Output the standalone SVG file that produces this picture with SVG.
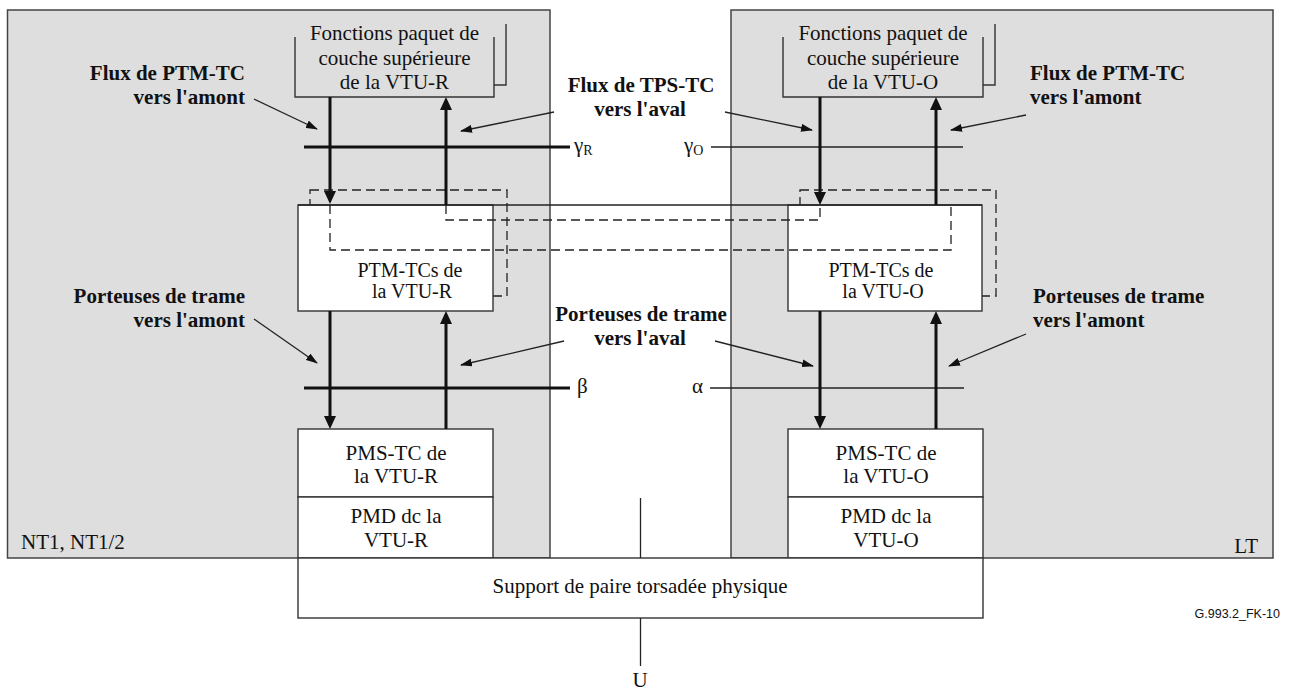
<svg xmlns="http://www.w3.org/2000/svg" width="1291" height="691" viewBox="0 0 1291 691">
<style>
.panel{fill:#dedede;stroke:#444;stroke-width:1.5}
.box{fill:#fff;stroke:#333;stroke-width:1.4}
.open{fill:none;stroke:#333;stroke-width:1.4}
.dash{fill:none;stroke:#222;stroke-width:1.3;stroke-dasharray:9 5}
.thick{stroke:#111;stroke-width:3;fill:none}
.thin{stroke:#222;stroke-width:1.3;fill:none}
.ptr{stroke:#222;stroke-width:1.3;fill:none}
text{font-family:"Liberation Serif","Times New Roman",serif;font-size:21px;fill:#111}
.b{font-weight:bold}
.m{text-anchor:middle}
.e{text-anchor:end}
.s20{font-size:20px}
.sans{font-family:"Liberation Sans",Arial,sans-serif;font-size:12.5px}
</style>
<defs>
<marker id="ah" viewBox="0 0 13 12" markerWidth="13" markerHeight="12" refX="0" refY="6" orient="auto" markerUnits="userSpaceOnUse"><path d="M0,0 L13,6 L0,12 z" fill="#111"/></marker>
<marker id="ap" viewBox="0 0 12 8" markerWidth="12" markerHeight="8" refX="11" refY="4" orient="auto" markerUnits="userSpaceOnUse"><path d="M0,0 L12,4 L0,8 z" fill="#111"/></marker>
</defs>

<g id="panel-nt1">
<rect class="panel" x="7.5" y="10" width="542.5" height="548"/>
<text x="21" y="549">NT1, NT1/2</text>
</g>
<g id="panel-lt">
<rect class="panel" x="731" y="10" width="542" height="548"/>
<text x="1258" y="553" class="e">LT</text>
</g>

<g id="dashed-back">
<rect class="dash" x="310" y="190" width="197" height="106"/>
<rect class="dash" x="800" y="190" width="196" height="106"/>
</g>

<g id="top-r">
<path class="open" d="M506,24 V85 H494"/>
<path class="open" d="M295,37 V97 H494 V37"/>
<text class="m" x="394.5" y="40">Fonctions paquet de</text>
<text class="m" x="394.5" y="65">couche supérieure</text>
<text class="m" x="394.5" y="89">de la VTU-R</text>
</g>
<g id="top-o">
<path class="open" d="M995,24 V85 H983"/>
<path class="open" d="M783,37 V97 H983 V37"/>
<text class="m" x="883" y="40">Fonctions paquet de</text>
<text class="m" x="883" y="65">couche supérieure</text>
<text class="m" x="883" y="89">de la VTU-O</text>
</g>

<g id="ptm-r">
<rect class="box" x="298" y="205" width="195" height="106"/>
<text class="m s20" x="410" y="277">PTM-TCs de</text>
<text class="m s20" x="412" y="298">la VTU-R</text>
</g>
<g id="ptm-o">
<rect class="box" x="788" y="205" width="194" height="106"/>
<text class="m s20" x="881" y="277">PTM-TCs de</text>
<text class="m s20" x="883" y="298">la VTU-O</text>
</g>

<g id="pms-r">
<rect class="box" x="298" y="429" width="195" height="68"/>
<text class="m" x="396" y="460">PMS-TC de</text>
<text class="m" x="396" y="483">la VTU-R</text>
</g>
<g id="pmd-r">
<rect class="box" x="298" y="497" width="195" height="61"/>
<text class="m" x="396" y="523">PMD dc la</text>
<text class="m" x="396" y="547">VTU-R</text>
</g>
<g id="pms-o">
<rect class="box" x="788" y="429" width="195" height="68"/>
<text class="m" x="886" y="460">PMS-TC de</text>
<text class="m" x="886" y="483">la VTU-O</text>
</g>
<g id="pmd-o">
<rect class="box" x="788" y="497" width="195" height="61"/>
<text class="m" x="886" y="523">PMD dc la</text>
<text class="m" x="886" y="547">VTU-O</text>
</g>
<g id="support">
<rect class="box" x="298" y="558" width="685" height="60"/>
<text class="m" x="640" y="593">Support de paire torsadée physique</text>
</g>

<g id="connectors">
<line class="thin" x1="298" y1="205" x2="982" y2="205" stroke="#333"/>
<path class="dash" d="M330,205 V250 H951 V205"/>
<path class="dash" d="M446,205 V220 H820 V205"/>
<line class="thin" x1="640.5" y1="498" x2="640.5" y2="558"/>
<line class="thin" x1="640.5" y1="618" x2="640.5" y2="666"/>

<line class="thick" x1="304" y1="147" x2="570" y2="147"/>
<line class="thin" x1="711" y1="147" x2="963" y2="147"/>
<line class="thick" x1="304" y1="388" x2="570" y2="388"/>
<line class="thin" x1="710" y1="388" x2="964" y2="388"/>

<line class="thick" x1="330" y1="97" x2="330" y2="191" marker-end="url(#ah)"/>
<line class="thick" x1="446" y1="205" x2="446" y2="110" marker-end="url(#ah)"/>
<line class="thick" x1="820" y1="97" x2="820" y2="192" marker-end="url(#ah)"/>
<line class="thick" x1="936" y1="205" x2="936" y2="110" marker-end="url(#ah)"/>
<line class="thick" x1="330" y1="311" x2="330" y2="416" marker-end="url(#ah)"/>
<line class="thick" x1="446" y1="429" x2="446" y2="324" marker-end="url(#ah)"/>
<line class="thick" x1="820" y1="311" x2="820" y2="416" marker-end="url(#ah)"/>
<line class="thick" x1="936" y1="429" x2="936" y2="324" marker-end="url(#ah)"/>

<line class="ptr" x1="254" y1="99" x2="317" y2="129" marker-end="url(#ap)"/>
<line class="ptr" x1="554" y1="112" x2="461" y2="131" marker-end="url(#ap)"/>
<line class="ptr" x1="725" y1="112" x2="812" y2="130" marker-end="url(#ap)"/>
<line class="ptr" x1="1026" y1="115" x2="951" y2="130" marker-end="url(#ap)"/>
<line class="ptr" x1="254" y1="319" x2="317" y2="363" marker-end="url(#ap)"/>
<line class="ptr" x1="564" y1="341" x2="461" y2="365" marker-end="url(#ap)"/>
<line class="ptr" x1="715" y1="341" x2="813" y2="366" marker-end="url(#ap)"/>
<line class="ptr" x1="1026" y1="334" x2="949" y2="366" marker-end="url(#ap)"/>
</g>

<g id="labels">
<text class="b e" x="245" y="80">Flux de PTM-TC</text>
<text class="b e" x="245" y="104">vers l'amont</text>
<text class="b m" x="641" y="92">Flux de TPS-TC</text>
<text class="b m" x="640" y="116">vers l'aval</text>
<text class="b" x="1030" y="80">Flux de PTM-TC</text>
<text class="b" x="1030" y="104">vers l'amont</text>
<text class="b e" x="245" y="303">Porteuses de trame</text>
<text class="b e" x="245" y="327">vers l'amont</text>
<text class="b m" x="641" y="321">Porteuses de trame</text>
<text class="b m" x="640" y="345">vers l'aval</text>
<text class="b" x="1033" y="303">Porteuses de trame</text>
<text class="b" x="1033" y="327">vers l'amont</text>
<text x="574" y="152">γ<tspan font-size="14" dy="3">R</tspan></text>
<text x="684" y="152">γ<tspan font-size="14" dy="3">O</tspan></text>
<text x="577" y="393">β</text>
<text x="692" y="393">α</text>
<text class="m" x="640" y="687">U</text>
<text class="sans e" x="1280" y="618">G.993.2_FK-10</text>
</g>
</svg>
